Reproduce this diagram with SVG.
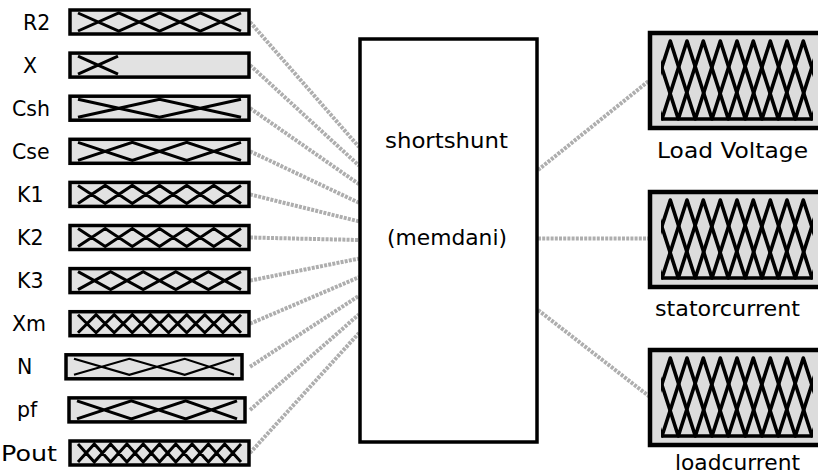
<svg xmlns="http://www.w3.org/2000/svg" width="818" height="476" viewBox="0 0 818 476">
<style>
text{font-family:"DejaVu Sans","Liberation Sans",sans-serif;fill:#000}
.lbl{font-size:20.5px}
.t{font-size:21px}
.ibox{fill:#e2e2e2;stroke:#000;stroke-width:3.5}
.pat{fill:none;stroke:#000;stroke-width:3;stroke-linejoin:miter}
.thin{stroke-width:2.2}
.conn{stroke:#aeaeae;stroke-width:4;stroke-dasharray:3 1.2;fill:none}
.obox{fill:#dcdcdc;stroke:#000;stroke-width:4.5}
.wave{fill:none;stroke:#000;stroke-width:3.6;stroke-linejoin:round}
.main{fill:#fff;stroke:#000;stroke-width:3.5}
</style>
<defs>
<clipPath id="wc"><rect x="661" y="6" width="152" height="82"/></clipPath>
<g id="wv">
<rect class="obox" x="650" y="0" width="180" height="95"/>
<g clip-path="url(#wc)">
<path class="wave" d="M637,8L662,86L687,8L712,86L737,8L762,86L787,8L812,86L837,8"/>
<path class="wave" d="M628.3,86L653.3,8L678.3,86L703.3,8L728.3,86L753.3,8L778.3,86L803.3,8L828.3,86"/>
<path class="wave" d="M645.3,86L670.3,8L695.3,86L720.3,8L745.3,86L770.3,8L795.3,86L820.3,8"/>
<path class="wave" d="M662,86L812,86"/>
</g>
</g>
</defs>
<g id="connectors">
<line class="conn" x1="250" y1="22" x2="359" y2="147"/>
<line class="conn" x1="250" y1="65.1" x2="359" y2="165.6"/>
<line class="conn" x1="250" y1="108.2" x2="359" y2="184.2"/>
<line class="conn" x1="250" y1="151.3" x2="359" y2="202.8"/>
<line class="conn" x1="250" y1="194.4" x2="359" y2="221.4"/>
<line class="conn" x1="250" y1="237.5" x2="359" y2="240"/>
<line class="conn" x1="250" y1="280.6" x2="359" y2="258.6"/>
<line class="conn" x1="250" y1="323.7" x2="359" y2="277.2"/>
<line class="conn" x1="250" y1="366.8" x2="359" y2="295.8"/>
<line class="conn" x1="250" y1="409.9" x2="359" y2="314.4"/>
<line class="conn" x1="250" y1="453" x2="359" y2="333"/>
<line class="conn" x1="538" y1="170" x2="650" y2="80"/>
<line class="conn" x1="538" y1="238.5" x2="650" y2="238.5"/>
<line class="conn" x1="538" y1="310" x2="650" y2="397"/>
</g>
<g id="R2" transform="translate(0,22)">
<text class="lbl" x="23" y="7.5">R2</text>
<rect class="ibox" x="70" y="-12" width="179" height="24"/>
<path class="pat" d="M78,-9L118.75,9L159.5,-9L200.25,9L241,-9M78,9L118.75,-9L159.5,9L200.25,-9L241,9"/>
</g>
<g id="X" transform="translate(0,65.1)">
<text class="lbl" x="23" y="7.5">X</text>
<rect class="ibox" x="70" y="-12" width="179" height="24"/>
<path class="pat" d="M78,-9L118,9M78,9L118,-9"/>
</g>
<g id="Csh" transform="translate(0,108.2)">
<text class="lbl" x="12" y="7.5">Csh</text>
<rect class="ibox" x="70" y="-12" width="179" height="24"/>
<path class="pat" d="M78,-9L159.5,9L241,-9M78,9L159.5,-9L241,9"/>
</g>
<g id="Cse" transform="translate(0,151.3)">
<text class="lbl" x="12" y="7.5">Cse</text>
<rect class="ibox" x="70" y="-12" width="179" height="24"/>
<path class="pat" d="M78,-9L132.3,9L186.7,-9L241,9M78,9L132.3,-9L186.7,9L241,-9"/>
</g>
<g id="K1" transform="translate(0,194.4)">
<text class="lbl" x="17" y="7.5">K1</text>
<rect class="ibox" x="70" y="-12" width="179" height="24"/>
<path class="pat" d="M78,-9L105.2,9L132.3,-9L159.5,9L186.7,-9L213.8,9L241,-9M78,9L105.2,-9L132.3,9L159.5,-9L186.7,9L213.8,-9L241,9"/>
</g>
<g id="K2" transform="translate(0,237.5)">
<text class="lbl" x="17" y="7.5">K2</text>
<rect class="ibox" x="70" y="-12" width="179" height="24"/>
<path class="pat" d="M78,-9L105.2,9L132.3,-9L159.5,9L186.7,-9L213.8,9L241,-9M78,9L105.2,-9L132.3,9L159.5,-9L186.7,9L213.8,-9L241,9"/>
</g>
<g id="K3" transform="translate(0,280.6)">
<text class="lbl" x="17" y="7.5">K3</text>
<rect class="ibox" x="70" y="-12" width="179" height="24"/>
<path class="pat" d="M78,-9L110.6,9L143.2,-9L175.8,9L208.4,-9L241,9M78,9L110.6,-9L143.2,9L175.8,-9L208.4,9L241,-9"/>
</g>
<g id="Xm" transform="translate(0,323.7)">
<text class="lbl" x="12" y="7.5">Xm</text>
<rect class="ibox" x="70" y="-12" width="179" height="24"/>
<path class="pat" d="M78,-9L96.1,9L114.2,-9L132.3,9L150.4,-9L168.6,9L186.7,-9L204.8,9L222.9,-9L241,9M78,9L96.1,-9L114.2,9L132.3,-9L150.4,9L168.6,-9L186.7,9L204.8,-9L222.9,9L241,-9"/>
</g>
<g id="N" transform="translate(0,366.8)">
<text class="lbl" x="17" y="7.5">N</text>
<rect class="ibox" x="66" y="-12" width="176" height="24"/>
<path class="pat thin" d="M74,-8L129.3,8L184.7,-8L234,8M74,8L129.3,-8L184.7,8L234,-8"/>
</g>
<g id="pf" transform="translate(0,409.9)">
<text class="lbl" x="17" y="7.5">pf</text>
<rect class="ibox" x="69" y="-12" width="176" height="24"/>
<path class="pat" d="M77,-9L131.3,9L185.7,-9L237,9M77,9L131.3,-9L185.7,9L237,-9"/>
</g>
<g id="Pout" transform="translate(0,453)">
<text class="lbl" x="1" y="7.5" textLength="56" lengthAdjust="spacingAndGlyphs">Pout</text>
<rect class="ibox" x="70" y="-12" width="179" height="24"/>
<path class="pat" d="M78,-9L94.3,9L110.6,-9L126.9,9L143.2,-9L159.5,9L175.8,-9L192.1,9L208.4,-9L224.7,9L241,-9M78,9L94.3,-9L110.6,9L126.9,-9L143.2,9L159.5,-9L175.8,9L192.1,-9L208.4,9L224.7,-9L241,9"/>
</g>
<g id="shortshunt">
<rect class="main" x="360" y="39" width="177" height="403"/>
<text class="t" x="385" y="148" textLength="123" lengthAdjust="spacingAndGlyphs">shortshunt</text>
<text class="t" x="387" y="245" textLength="120" lengthAdjust="spacingAndGlyphs">(memdani)</text>
</g>
<g id="LoadVoltage">
<use href="#wv" transform="translate(0,33)"/>
<text class="t" x="657" y="158" textLength="151" lengthAdjust="spacingAndGlyphs">Load Voltage</text>
</g>
<g id="statorcurrent">
<use href="#wv" transform="translate(0,192)"/>
<text class="t" x="655" y="316" textLength="145" lengthAdjust="spacingAndGlyphs">statorcurrent</text>
</g>
<g id="loadcurrent">
<use href="#wv" transform="translate(0,350)"/>
<text class="t" x="675" y="470" textLength="125" lengthAdjust="spacingAndGlyphs">loadcurrent</text>
</g>
</svg>
